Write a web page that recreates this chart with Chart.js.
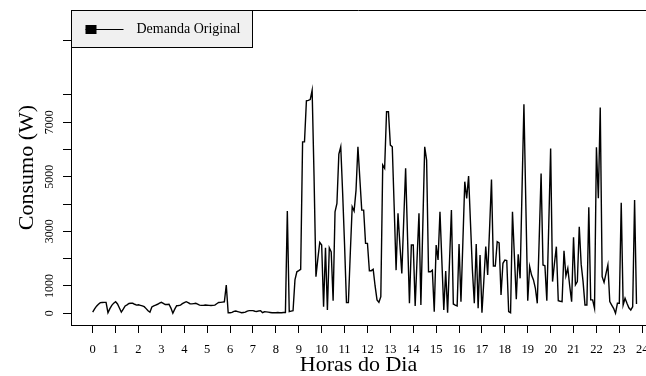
<!DOCTYPE html>
<html>
<head>
<meta charset="utf-8">
<script src="https://cdn.jsdelivr.net/npm/chart.js@4"></script>
<style>
  html, body { margin: 0; padding: 0; background: #fff; }
</style>
</head>
<body>
<canvas id="demandaChart" width="646" height="376"></canvas>
<script>
// Consumo medido a cada 5 minutos (W), a partir de 00:00
var consumo = [
    40, 160, 260, 330, 390, 395, 400, 400, 20, 170,
    290, 370, 420, 340, 190, 40, 150, 270, 310, 360,
    365, 365, 330, 300, 310, 290, 270, 240, 170, 90,
    40, 230, 270, 300, 330, 370, 400, 360, 320, 320,
    330, 190, 0, 150, 275, 285, 300, 350, 390, 425,
    390, 350, 345, 355, 365, 335, 300, 290, 290, 300,
    295, 290, 285, 290, 300, 350, 395, 400, 410, 420,
    1035, 20, 20, 30, 70, 80, 60, 40, 20, 30,
    40, 80, 95, 95, 95, 75, 65, 85, 95, 20,
    55, 50, 40, 30, 20, 25, 20, 30, 20, 20,
    30, 30, 3745, 60, 80, 95, 1220, 1520, 1560, 1610,
    6280, 6280, 7780, 7800, 7830, 8170, 5020, 1340, 2000, 2600,
    2500, 240, 2400, 120, 2400, 2250, 460, 3720, 4020, 5830,
    6100, 4400, 2500, 390, 390, 2200, 3900, 3745, 4500, 6100,
    4940, 3780, 3780, 2560, 2560, 1560, 1560, 1610, 1000, 490,
    400, 610, 5430, 5310, 7380, 7380, 6160, 6100, 3900, 1580,
    3660, 2500, 1460, 3400, 5310, 2800, 365, 2500, 2500, 270,
    2000, 3660, 300, 3200, 6100, 5610, 1520, 1520, 1580, 60,
    2500, 1950, 3720, 1900, 120, 1550, 20, 1900, 3780, 340,
    300, 270, 2540, 425, 2600, 4820, 4210, 5030, 3300, 1580,
    365, 2540, 180, 2130, 20, 1200, 2440, 1400, 3100, 4900,
    1730, 1730, 2620, 2580, 670, 1830, 1950, 1930, 60, 20,
    3720, 2100, 510, 2160, 1280, 4500, 7660, 4000, 460, 1710,
    1400, 1220, 915, 365, 2700, 5120, 1770, 1740, 460, 3200,
    6040, 1160, 1830, 2440, 460, 440, 425, 2290, 1370, 1650,
    1000, 425, 2780, 1040, 1160, 3170, 1800, 1160, 300, 300,
    3880, 490, 490, 180, 6080, 4210, 7540, 1340, 1130, 1450,
    1770, 425, 300, 180, 0, 365, 365, 4050, 300, 550,
    365, 200, 120, 240, 4150, 340
];

var horasTicks = [0, 1, 2, 3, 4, 5, 6, 7, 8, 9, 10, 11, 12, 13, 14, 15, 16, 17, 18, 19, 20, 21, 22, 23, 24];
var consumoTicks = [0, 1000, 2000, 3000, 4000, 5000, 6000, 7000, 8000, 10000];
var consumoRotulos = [0, 1000, 3000, 5000, 7000];
var serieNome = 'Demanda Original';

var serif = '"Liberation Serif", "Times New Roman", serif';

// amostras de 5 em 5 minutos -> hora do dia
var pontos = consumo.map(function (v, i) { return { x: i / 12, y: v }; });

var molduraLegenda = {
    id: 'molduraLegenda',
    afterDraw: function (chart) {
        var c = chart.ctx, a = chart.chartArea;
        c.save();
        // linha superior da caixa
        c.strokeStyle = '#000';
        c.lineWidth = 1;
        c.beginPath();
        c.moveTo(a.left, a.top + 0.5);
        c.lineTo(a.right, a.top + 0.5);
        c.stroke();
        // legenda
        var lx = a.left + 0.5, ly = a.top + 0.5, lw = 181, lh = 37;
        c.fillStyle = '#f0f0f0';
        c.fillRect(lx, ly, lw, lh);
        c.strokeRect(lx, ly, lw, lh);
        c.fillStyle = '#000';
        c.fillRect(lx + 14, ly + 14.5, 11, 9);
        c.beginPath();
        c.moveTo(lx + 14, ly + 19);
        c.lineTo(lx + 52, ly + 19);
        c.stroke();
        c.font = '14px ' + serif;
        c.textBaseline = 'middle';
        c.fillText(chart.data.datasets[0].label, lx + 65, ly + 19);
        c.restore();
    }
};

var ctx = document.getElementById('demandaChart').getContext('2d');
var demandaChart = new Chart(ctx, {
    type: 'line',
    data: {
        datasets: [{
            label: serieNome,
            data: pontos,
            borderColor: '#000',
            borderWidth: 1.4,
            pointRadius: 0,
            tension: 0,
            fill: false
        }]
    },
    options: {
        responsive: false,
        animation: false,
        devicePixelRatio: 1,
        layout: { padding: { left: 0, right: 0, top: 10, bottom: 0 } },
        plugins: {
            legend: { display: false },
            tooltip: { enabled: false }
        },
        scales: {
            x: {
                type: 'linear',
                min: -0.948,
                max: 24.165,
                afterBuildTicks: function (s) {
                    s.ticks = horasTicks.map(function (v) { return { value: v }; });
                },
                afterFit: function (s) {
                    s.height = 51;
                    s.paddingLeft = 0;
                    s.paddingRight = 0;
                },
                grid: { drawOnChartArea: false, drawTicks: true, tickLength: 8, color: '#000' },
                border: { display: true, color: '#000', width: 1 },
                ticks: {
                    autoSkip: false,
                    maxRotation: 0,
                    padding: 9,
                    color: '#000',
                    font: { family: serif, size: 12.5 }
                },
                title: {
                    display: true,
                    text: 'Horas do Dia',
                    color: '#000',
                    font: { family: serif, size: 22, lineHeight: 1 },
                    padding: { top: 0, bottom: 0 }
                }
            },
            y: {
                min: -430,
                max: 11110,
                afterBuildTicks: function (s) {
                    s.ticks = consumoTicks.map(function (v) { return { value: v }; });
                },
                afterFit: function (s) {
                    s.width = 71;
                    s.paddingTop = 0;
                    s.paddingBottom = 0;
                },
                grid: { drawOnChartArea: false, drawTicks: true, tickLength: 8, color: '#000' },
                border: { display: true, color: '#000', width: 1 },
                ticks: {
                    autoSkip: false,
                    minRotation: 90,
                    maxRotation: 90,
                    crossAlign: 'center',
                    padding: 1,
                    color: '#000',
                    font: { family: serif, size: 12 },
                    callback: function (v) {
                        return consumoRotulos.indexOf(v) >= 0 ? String(v) : '';
                    }
                },
                title: {
                    display: true,
                    text: 'Consumo (W)',
                    color: '#000',
                    font: { family: serif, size: 22, lineHeight: 1 },
                    padding: { top: 16, bottom: 0 }
                }
            }
        }
    },
    plugins: [molduraLegenda]
});
</script>
</body>
</html>
